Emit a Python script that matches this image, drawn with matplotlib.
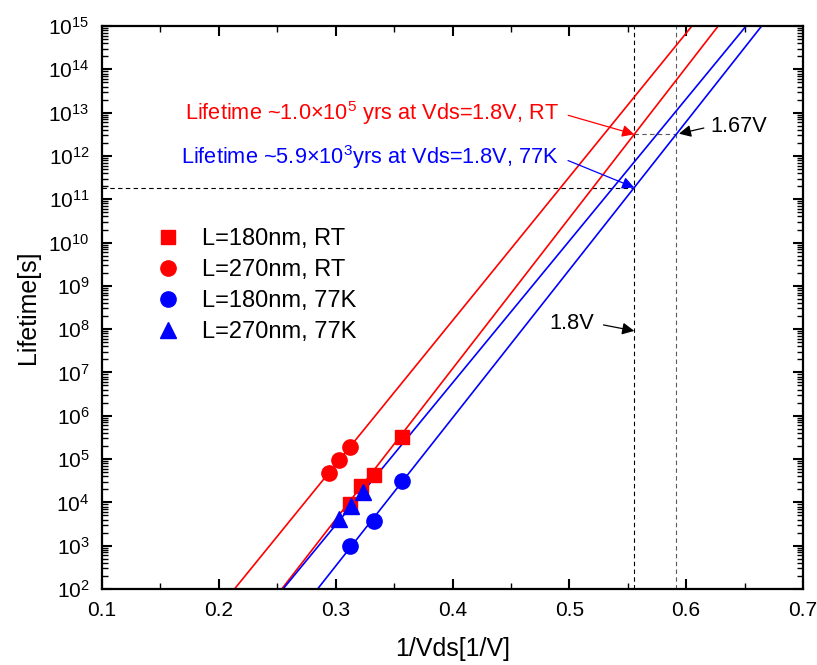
import numpy as np
import matplotlib
matplotlib.use('Agg')
import matplotlib.pyplot as plt
from matplotlib.ticker import LogLocator, NullFormatter, MultipleLocator

plt.rcParams['font.family'] = 'Liberation Sans'
plt.rcParams['mathtext.fontset'] = 'custom'
plt.rcParams['mathtext.rm'] = 'Liberation Sans'
plt.rcParams['mathtext.it'] = 'Liberation Sans:italic'

# measured lifetime vs 1/Vds
x_180_rt = [0.312, 0.322, 0.333, 0.357]
y_180_rt = [9.0e3, 2.4e4, 4.4e4, 3.3e5]
x_270_rt = [0.2946, 0.303, 0.3126]
y_270_rt = [4.7e4, 9.6e4, 1.9e5]
x_180_77k = [0.3123, 0.333, 0.357]
y_180_77k = [9.6e2, 3.7e3, 3.1e4]
x_270_77k = [0.303, 0.3129, 0.3237]
y_270_77k = [4.1e3, 8.1e3, 1.7e4]

# extrapolated lifetimes at Vds=1.8V
sec_per_yr = 3.156e7
life_rt_yrs = 1.0e5     # L=180nm, RT
life_77k_yrs = 5.9e3    # L=180nm, 77K
vds_op = 1.8

# fit lines: slope in decades per 1/V, log10(lifetime) at 1/1.8V
fit_names = ['270nm RT', '180nm RT', '270nm 77K', '180nm 77K']
fit_slope = [33.2, 34.8, 32.8, 34.2]
fit_logy_op = [13.36, np.log10(life_rt_yrs * sec_per_yr),
               11.86, np.log10(life_77k_yrs * sec_per_yr)]
fit_color = ['red', 'red', 'blue', 'blue']

fig = plt.figure(figsize=(8.17, 6.65), dpi=100)
ax = fig.add_axes([102/817., 1-589/665., 701/817., 563/665.])

xop = 1.0/vds_op
xx = np.linspace(0.1, 0.7, 200)
for s, l0, c in zip(fit_slope, fit_logy_op, fit_color):
    ax.plot(xx, 10**(l0 + s*(xx - xop)), color=c, lw=1.2, zorder=2)

ms = 10
ax.plot(x_180_rt, y_180_rt, 's', color='red', ms=ms, ls='none', label='L=180nm, RT', zorder=3)
ax.plot(x_270_rt, y_270_rt, 'o', color='red', ms=ms+1, ls='none', label='L=270nm, RT', zorder=3)
ax.plot(x_180_77k, y_180_77k, 'o', color='blue', ms=ms+1, ls='none', label='L=180nm, 77K', zorder=3)
ax.plot(x_270_77k, y_270_77k, '^', color='blue', ms=ms+1, ls='none', label='L=270nm, 77K', zorder=3)

# guide lines at 1.8V and where the 77K line reaches the RT lifetime
y_rt = fit_logy_op[1]
y_77 = fit_logy_op[3]
x_cross = xop + (y_rt - y_77)/fit_slope[3]
dash = dict(color='k', lw=0.8, dashes=(4, 3), zorder=1)
ax.axvline(xop, **dash)
ax.axvline(x_cross, color='0.35', lw=0.8, dashes=(4, 3), zorder=1)
ax.plot([0.1, xop], [10**y_77, 10**y_77], **dash)
ax.plot([xop, x_cross], [10**y_rt, 10**y_rt], color='0.35', lw=0.8, dashes=(4, 3), zorder=1)

fs_ann = 15.7
ax.annotate(r'Lifetime ~1.0$\times$10$^{5}$ yrs at Vds=1.8V, RT',
            xy=(xop, 10**y_rt), xytext=(0.491, 10**13.0), color='red', fontsize=fs_ann,
            ha='right', va='center',
            arrowprops=dict(arrowstyle='-|>', color='red', lw=0.9, mutation_scale=18,
                            relpos=(1, 0.5), shrinkA=5, shrinkB=0))
ax.annotate(r'Lifetime ~5.9$\times$10$^{3}$yrs at Vds=1.8V, 77K',
            xy=(xop, 10**y_77), xytext=(0.491, 10**11.98), color='blue', fontsize=fs_ann,
            ha='right', va='center',
            arrowprops=dict(arrowstyle='-|>', color='blue', lw=0.9, mutation_scale=18,
                            relpos=(1, 0.5), shrinkA=5, shrinkB=0))
ax.annotate('1.67V', xy=(x_cross, 10**y_rt), xytext=(0.621, 10**12.68), color='k',
            fontsize=fs_ann, ha='left', va='center',
            arrowprops=dict(arrowstyle='-|>', color='k', lw=0.9, mutation_scale=18,
                            relpos=(0, 0.5), shrinkA=3, shrinkB=2))
ax.annotate('1.8V', xy=(xop, 10**7.96), xytext=(0.521, 10**8.14), color='k',
            fontsize=fs_ann, ha='right', va='center',
            arrowprops=dict(arrowstyle='-|>', color='k', lw=0.9, mutation_scale=18,
                            relpos=(1, 0.5), shrinkA=5, shrinkB=0))

ax.set_yscale('log')
ax.set_xlim(0.1, 0.7)
ax.set_ylim(1e2, 1e15)
ax.xaxis.set_major_locator(MultipleLocator(0.1))
ax.xaxis.set_minor_locator(MultipleLocator(0.05))
ax.yaxis.set_major_locator(LogLocator(base=10, numticks=20))
ax.yaxis.set_minor_locator(LogLocator(base=10, subs=np.arange(2, 10), numticks=20))
ax.yaxis.set_minor_formatter(NullFormatter())
ax.tick_params(which='both', direction='in', top=True, right=True, labelsize=15)
ax.tick_params(which='major', length=7, width=1.5, pad=9)
ax.tick_params(which='minor', length=4, width=1.0)
for sp in ax.spines.values():
    sp.set_linewidth(1.6)

ax.set_xlabel('1/Vds[1/V]', fontsize=18, labelpad=12)
ax.set_ylabel('Lifetime[s]', fontsize=18, labelpad=6)

ax.legend(loc='upper left', bbox_to_anchor=(0.065, 0.658), frameon=False, fontsize=17,
          handletextpad=1.0, labelspacing=0.38, borderaxespad=0, handlelength=0.9)

fig.savefig('out.png', dpi=100)
plt.close()
